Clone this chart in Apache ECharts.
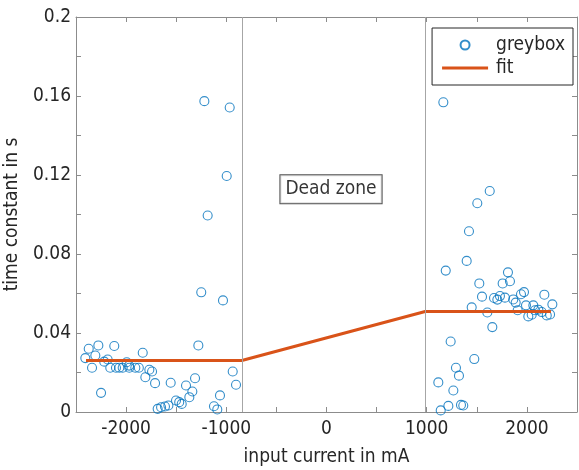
<!DOCTYPE html>
<html>
<head>
<meta charset="utf-8">
<script src="https://cdn.jsdelivr.net/npm/echarts@6/dist/echarts.min.js"></script>
<style>
  html, body { margin: 0; padding: 0; background: #fff; }
  #chart { width: 579px; height: 470px; }
</style>
</head>
<body>
<div id="chart"></div>
<script>
// measured points (input current in mA, time constant in s)
const greyboxCurrent = [
  -2407, -2373, -2340, -2307, -2277, -2250, -2218, -2184, -2158, -2118, -2101, -2068, -2034,
  -1994, -1970, -1968, -1908, -1873, -1834, -1808, -1768, -1741, -1711, -1685, -1651, -1612,
  -1578, -1555, -1502, -1470, -1445, -1402, -1369, -1339, -1312, -1279, -1250, -1219, -1186,
  -1123, -1090, -1063, -1033, -996, -966, -936, -903,
  1116, 1140, 1166, 1190, 1216, 1239, 1266, 1292, 1322, 1342, 1365, 1399, 1422, 1449, 1475,
  1505, 1525, 1552, 1605, 1629, 1655, 1672, 1705, 1731, 1758, 1781, 1811, 1831, 1864, 1888,
  1908, 1941, 1971, 1991, 2014, 2048, 2064, 2081, 2114, 2148, 2174, 2198, 2231, 2254
];
const greyboxTau = [
  0.0273, 0.0320, 0.0224, 0.0286, 0.0337, 0.0097, 0.0255, 0.0266, 0.0224, 0.0334, 0.0224, 0.0224, 0.0224,
  0.0252, 0.0235, 0.0224, 0.0224, 0.0224, 0.0300, 0.0176, 0.0214, 0.0205, 0.0146, 0.0016, 0.0024, 0.0028,
  0.0033, 0.0148, 0.0058, 0.0050, 0.0041, 0.0134, 0.0075, 0.0104, 0.0171, 0.0337, 0.0606, 0.1574, 0.0995,
  0.0029, 0.0013, 0.0084, 0.0565, 0.1195, 0.1542, 0.0205, 0.0138,
  0.0150, 0.0008, 0.1568, 0.0716, 0.0031, 0.0357, 0.0109, 0.0224, 0.0184, 0.0036, 0.0033, 0.0765, 0.0915, 0.0530, 0.0268,
  0.1057, 0.0651, 0.0584, 0.0504, 0.1119, 0.0430, 0.0577, 0.0569, 0.0587, 0.0651, 0.0579, 0.0707, 0.0662, 0.0570, 0.0554,
  0.0515, 0.0596, 0.0607, 0.0540, 0.0484, 0.0493, 0.0540, 0.0515, 0.0518, 0.0506, 0.0594, 0.0489, 0.0494, 0.0545
];

// piecewise fit
const fitCurrent = [-2400, -845, 985, 2240];
const fitTau = [0.0261, 0.0261, 0.0509, 0.0509];

// dead zone borders
const deadZone = [-845, 985];
const deadZoneLabel = { text: 'Dead zone', x: 45, y: 0.1128 };

const FONT = '"DejaVu Sans", sans-serif';
const STRETCH = 'condensed';  // goes in front of the canvas font string
const AXIS_GREY = '#8c8c8c';
const TEXT = '#262626';

const chart = echarts.init(document.getElementById('chart'));

const tickStyle = { inside: true, length: 5, lineStyle: { color: AXIS_GREY } };
const minorStyle = { show: true, splitNumber: 2, length: 5, lineStyle: { color: AXIS_GREY } };
const txt = (extra) => Object.assign({ fontFamily: FONT, fontStyle: STRETCH, fontSize: 19, color: TEXT }, extra);

chart.setOption({
  animation: false,
  textStyle: { fontFamily: FONT },
  grid: { left: 76, right: 2, top: 17, bottom: 58, outerBoundsMode: 'none' },
  legend: {
    orient: 'vertical',
    right: 6,
    top: 28,
    padding: [7, 8, 7, 10],
    itemWidth: 46,
    itemHeight: 9,
    itemGap: 3,
    borderColor: '#262626',
    borderWidth: 1,
    backgroundColor: '#fff',
    textStyle: txt({ lineHeight: 20, padding: [0, 0, 0, 3] }),
    data: [
      { name: 'greybox', icon: 'circle' },
      { name: 'fit', icon: 'path://M0,0L46,0L46,3L0,3Z' }
    ]
  },
  xAxis: [{
    type: 'value',
    min: -2500,
    max: 2500,
    interval: 1000,
    name: 'input current in mA',
    nameLocation: 'middle',
    nameGap: 36,
    nameTextStyle: txt(),
    axisLine: { onZero: false, lineStyle: { color: AXIS_GREY } },
    axisTick: tickStyle,
    minorTick: minorStyle,
    splitLine: { show: false },
    axisLabel: txt({ margin: 8, formatter: v => String(v), customValues: [-2000, -1000, 0, 1000, 2000] })
  }, {
    type: 'value',
    position: 'top',
    min: -2500,
    max: 2500,
    interval: 1000,
    axisLine: { show: true, onZero: false, lineStyle: { color: AXIS_GREY } },
    axisTick: tickStyle,
    minorTick: minorStyle,
    splitLine: { show: false },
    axisLabel: { show: false }
  }],
  yAxis: [{
    type: 'value',
    min: 0,
    max: 0.2,
    interval: 0.04,
    name: 'time constant in s',
    nameLocation: 'middle',
    nameGap: 47,
    nameTextStyle: txt(),
    axisLine: { show: true, onZero: false, lineStyle: { color: AXIS_GREY } },
    axisTick: tickStyle,
    minorTick: minorStyle,
    splitLine: { show: false },
    axisLabel: txt({ margin: 5, formatter: v => String(+v.toFixed(2)) })
  }, {
    type: 'value',
    position: 'right',
    min: 0,
    max: 0.2,
    interval: 0.04,
    axisLine: { show: true, onZero: false, lineStyle: { color: AXIS_GREY } },
    axisTick: tickStyle,
    minorTick: minorStyle,
    splitLine: { show: false },
    axisLabel: { show: false }
  }],
  series: [
    {
      name: 'greybox',
      type: 'scatter',
      symbol: 'circle',
      symbolSize: 9,
      itemStyle: { color: 'rgba(255,255,255,0)', borderColor: '#0072BD', borderWidth: 1.1 },
      data: greyboxCurrent.map((c, i) => [c, greyboxTau[i]]),
      z: 3
    },
    {
      name: 'fit',
      type: 'line',
      symbol: 'none',
      lineStyle: { color: '#D95319', width: 3 },
      itemStyle: { color: '#D95319' },
      data: fitCurrent.map((c, i) => [c, fitTau[i]]),
      z: 4,
      markLine: {
        silent: true,
        symbol: 'none',
        label: { show: false },
        lineStyle: { color: '#a6a6a6', width: 1, type: 'solid' },
        data: deadZone.map(v => ({ xAxis: v }))
      }
    },
    {
      name: 'annotation',
      type: 'scatter',
      symbolSize: 0,
      silent: true,
      data: [[deadZoneLabel.x, deadZoneLabel.y]],
      label: txt({
        show: true,
        position: 'inside',
        formatter: deadZoneLabel.text,
        color: '#000',
        borderColor: '#262626',
        borderWidth: 1,
        backgroundColor: '#fff',
        padding: [5, 5, 4, 5]
      }),
      z: 5
    }
  ]
});
</script>
</body>
</html>
